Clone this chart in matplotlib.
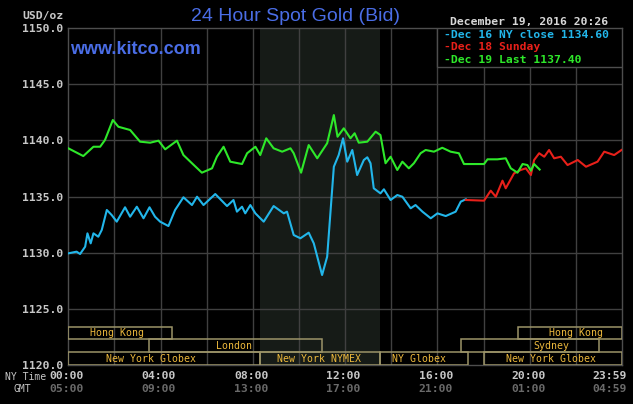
import numpy as np
import matplotlib
matplotlib.use("Agg")
import matplotlib.pyplot as plt
from matplotlib.patches import Rectangle
from matplotlib.transforms import blended_transform_factory

# 時刻はNY時間(時)、価格はUSD/oz
dec16_t = [0.00, 0.36, 0.51, 0.73, 0.83, 0.97, 1.09, 1.30, 1.45, 1.67, 1.88, 2.10, 2.46, 2.68,
           2.97, 3.26, 3.52, 3.76, 3.98, 4.34, 4.63, 4.99, 5.36, 5.58, 5.86, 6.37, 6.88, 7.16,
           7.31, 7.53, 7.67, 7.89, 8.11, 8.47, 8.90, 9.34, 9.48, 9.77, 10.06, 10.42, 10.64,
           11.00, 11.22, 11.51, 11.72, 11.91, 12.09, 12.31, 12.52, 12.81, 12.96, 13.10, 13.24,
           13.53, 13.68, 13.97, 14.26, 14.48, 14.84, 15.05, 15.35, 15.71, 16.00, 16.36, 16.79,
           17.01, 17.23]
dec16_p = [1129.94, 1130.09, 1129.88, 1130.53, 1131.72, 1130.83, 1131.72, 1131.42, 1132.02,
           1133.80, 1133.35, 1132.76, 1134.04, 1133.20, 1134.09, 1133.06, 1134.04, 1133.20,
           1132.76, 1132.37, 1133.80, 1134.93, 1134.24, 1134.98, 1134.24, 1135.22, 1134.15,
           1134.69, 1133.65, 1134.09, 1133.50, 1134.24, 1133.50, 1132.76, 1134.15, 1133.50,
           1133.65, 1131.57, 1131.28, 1131.78, 1130.83, 1128.01, 1129.64, 1137.65, 1138.69,
           1140.18, 1138.10, 1139.14, 1136.91, 1138.25, 1138.49, 1137.96, 1135.73, 1135.28,
           1135.64, 1134.69, 1135.13, 1134.98, 1133.95, 1134.24, 1133.65, 1133.06, 1133.50,
           1133.26, 1133.65, 1134.54, 1134.75]

dec18_t = [17.23, 18.02, 18.31, 18.53, 18.82, 18.96, 19.32, 19.61, 19.83, 20.05, 20.19, 20.41,
           20.63, 20.84, 21.06, 21.35, 21.64, 22.08, 22.44, 22.94, 23.23, 23.66, 23.98]
dec18_p = [1134.69, 1134.63, 1135.52, 1134.98, 1136.41, 1135.73, 1137.06, 1137.36, 1137.51,
           1136.91, 1138.25, 1138.85, 1138.54, 1139.14, 1138.40, 1138.54, 1137.80, 1138.25,
           1137.65, 1138.10, 1138.99, 1138.69, 1139.14]

dec19_t = [0.00, 0.65, 1.09, 1.38, 1.59, 1.93, 2.17, 2.68, 3.11, 3.55, 3.91, 4.20, 4.71, 4.99,
           5.36, 5.79, 6.23, 6.44, 6.73, 7.02, 7.53, 7.75, 8.11, 8.32, 8.58, 8.90, 9.27, 9.63,
           9.77, 10.09, 10.42, 10.79, 11.22, 11.51, 11.67, 11.94, 12.23, 12.41, 12.59, 12.96,
           13.32, 13.53, 13.75, 13.97, 14.26, 14.48, 14.76, 14.98, 15.27, 15.49, 15.85, 16.21,
           16.57, 16.93, 17.15, 18.02, 18.17, 18.60, 18.96, 19.18, 19.47, 19.69, 19.90, 20.05,
           20.19, 20.43]
dec19_p = [1139.29, 1138.60, 1139.43, 1139.43, 1140.03, 1141.81, 1141.21, 1140.92, 1139.88,
           1139.79, 1139.97, 1139.20, 1139.97, 1138.69, 1137.96, 1137.12, 1137.51, 1138.54,
           1139.43, 1138.10, 1137.89, 1138.85, 1139.43, 1138.69, 1140.18, 1139.29, 1138.99,
           1139.29, 1138.85, 1137.12, 1139.58, 1138.40, 1139.74, 1142.25, 1140.32, 1141.07,
           1140.18, 1140.63, 1139.79, 1139.88, 1140.77, 1140.47, 1137.96, 1138.54, 1137.36,
           1138.10, 1137.51, 1137.96, 1138.85, 1139.14, 1138.99, 1139.34, 1138.99, 1138.85,
           1137.89, 1137.89, 1138.31, 1138.31, 1138.40, 1137.51, 1137.12, 1137.89, 1137.80,
           1137.30, 1137.89, 1137.40]

legend_labels = ["-Dec 16 NY close 1134.60", "-Dec 18 Sunday", "-Dec 19 Last 1137.40"]

# 取引時間帯 (名前, 段, 開始, 終了, ラベル位置)
session_names = ["Hong Kong", "London", "New York Globex", "New York NYMEX", "NY Globex",
                 "Hong Kong", "Sydney", "New York Globex"]
session_rows = [0, 1, 2, 2, 2, 0, 1, 2]
session_start = [0.0, 3.5, 0.0, 8.33, 13.5, 19.5, 17.0, 18.0]
session_end = [4.5, 11.0, 8.33, 13.5, 17.33, 24.0, 23.0, 24.0]
session_label_at = [2.13, 7.18, 3.6, 10.86, 15.18, 22.0, 20.93, 20.93]

nymex_span = (8.33, 13.5)

y_ticks = [1120, 1125, 1130, 1135, 1140, 1145, 1150]
x_ticks = [0, 4, 8, 12, 16, 20, 24]
ny_labels = ["00:00", "04:00", "08:00", "12:00", "16:00", "20:00", "23:59"]
gmt_labels = ["05:00", "09:00", "13:00", "17:00", "21:00", "01:00", "04:59"]

CYAN = "#22b6ea"
RED = "#e8201a"
GREEN = "#2ee82a"
GRID = "#404040"
MONO = "DejaVu Sans Mono"
W, H = 633, 404

fig = plt.figure(figsize=(W / 100, H / 100), dpi=100, facecolor="black")
ax = fig.add_axes([68.3 / W, 1 - 365 / H, (622 - 68.3) / W, 337 / H])
ax.set_facecolor("black")
ax.set_xlim(0, 24)
ax.set_ylim(1120, 1150)
for s in ax.spines.values():
    s.set_color("#4e4e4e")
    s.set_linewidth(1.0)

ax.axvspan(*nymex_span, color="#161b17", zorder=0, lw=0)
for h in range(2, 24, 2):
    ax.axvline(h, color=GRID, lw=1.0, zorder=1)
for p in y_ticks[1:-1]:
    ax.axhline(p, color=GRID, lw=1.0, zorder=1)

ax.plot(dec16_t, dec16_p, color=CYAN, lw=1.5, zorder=3)
ax.plot(dec18_t, dec18_p, color=RED, lw=1.5, zorder=3)
ax.plot(dec19_t, dec19_p, color=GREEN, lw=1.5, zorder=3)

# y軸ラベル
ax.set_yticks(y_ticks)
ax.set_yticklabels(["%.1f" % v for v in y_ticks], family=MONO, weight="bold",
                   size=8.2, color="#c8c8c8")
ax.tick_params(axis="y", length=0, pad=3.6)
ax.set_xticks([])

# x軸ラベル (NY時間とGMT)
bt = blended_transform_factory(ax.transData, ax.transAxes)
for i, h in enumerate(x_ticks):
    ha = "right" if i == len(x_ticks) - 1 else "center"
    xx = h + 0.22 if ha == "right" else h - 0.07
    ax.text(xx, -0.034, ny_labels[i], transform=bt, ha=ha, va="center",
            family=MONO, weight="bold", size=8.2, color="#c8c8c8", clip_on=False)
    ax.text(xx, -0.072, gmt_labels[i], transform=bt, ha=ha, va="center",
            family=MONO, weight="bold", size=8.2, color="#6a6a6a", clip_on=False)

# 取引時間帯の枠
row_y = [(0.0763, 0.1119), (0.0377, 0.0763), (0.0, 0.0377)]
for name, r, a, b, lx in zip(session_names, session_rows, session_start, session_end,
                             session_label_at):
    y0, y1 = row_y[r]
    ax.add_patch(Rectangle((a, y0), b - a, y1 - y0, transform=bt, fill=False,
                           edgecolor="#9c9468", lw=1.1, zorder=4))
    ax.text(lx, (y0 + y1) / 2, name, transform=bt, ha="center", va="center",
            family=MONO, size=7.1, color="#ecb83c", zorder=4)

# 凡例の枠
ax.add_patch(Rectangle((16, 0.885), 8, 0.115, transform=bt, facecolor="black",
                       edgecolor="#4e4e4e", lw=1.0, zorder=5))
for lab, col, yy in zip(legend_labels, [CYAN, RED, GREEN], [35, 47.3, 60]):
    fig.text(443.5 / W, 1 - yy / H, lab, ha="left", va="center", family=MONO,
             weight="bold", size=8.2, color=col, zorder=6)

fig.text(450 / W, 1 - 21.7 / H, "December 19, 2016 20:26", ha="left", va="center",
         family=MONO, weight="bold", size=8.2, color="#d8d8d8")
fig.text(63.5 / W, 1 - 15.5 / H, "USD/oz", ha="right", va="center", family=MONO,
         weight="bold", size=8.2, color="#c8c8c8")
fig.text(26 / W, 1 - 376.5 / H, "NY Time", ha="center", va="center", family=MONO,
         size=7, color="#c8c8c8")
fig.text(22 / W, 1 - 389.3 / H, "GMT", ha="center", va="center", family=MONO,
         size=7, color="#c8c8c8")

fig.text(295.8 / W, 1 - 16.5 / H, "24 Hour Spot Gold (Bid)", ha="center", va="center",
         family="Liberation Sans", weight="medium", size=14, color="#4a6de6")
fig.text(70 / W, 1 - 49.5 / H, "www.kitco.com", ha="left", va="center",
         family="Liberation Sans", weight="bold", size=13, color="#4a6de6")

fig.savefig("out.png", dpi=100, facecolor="black")
